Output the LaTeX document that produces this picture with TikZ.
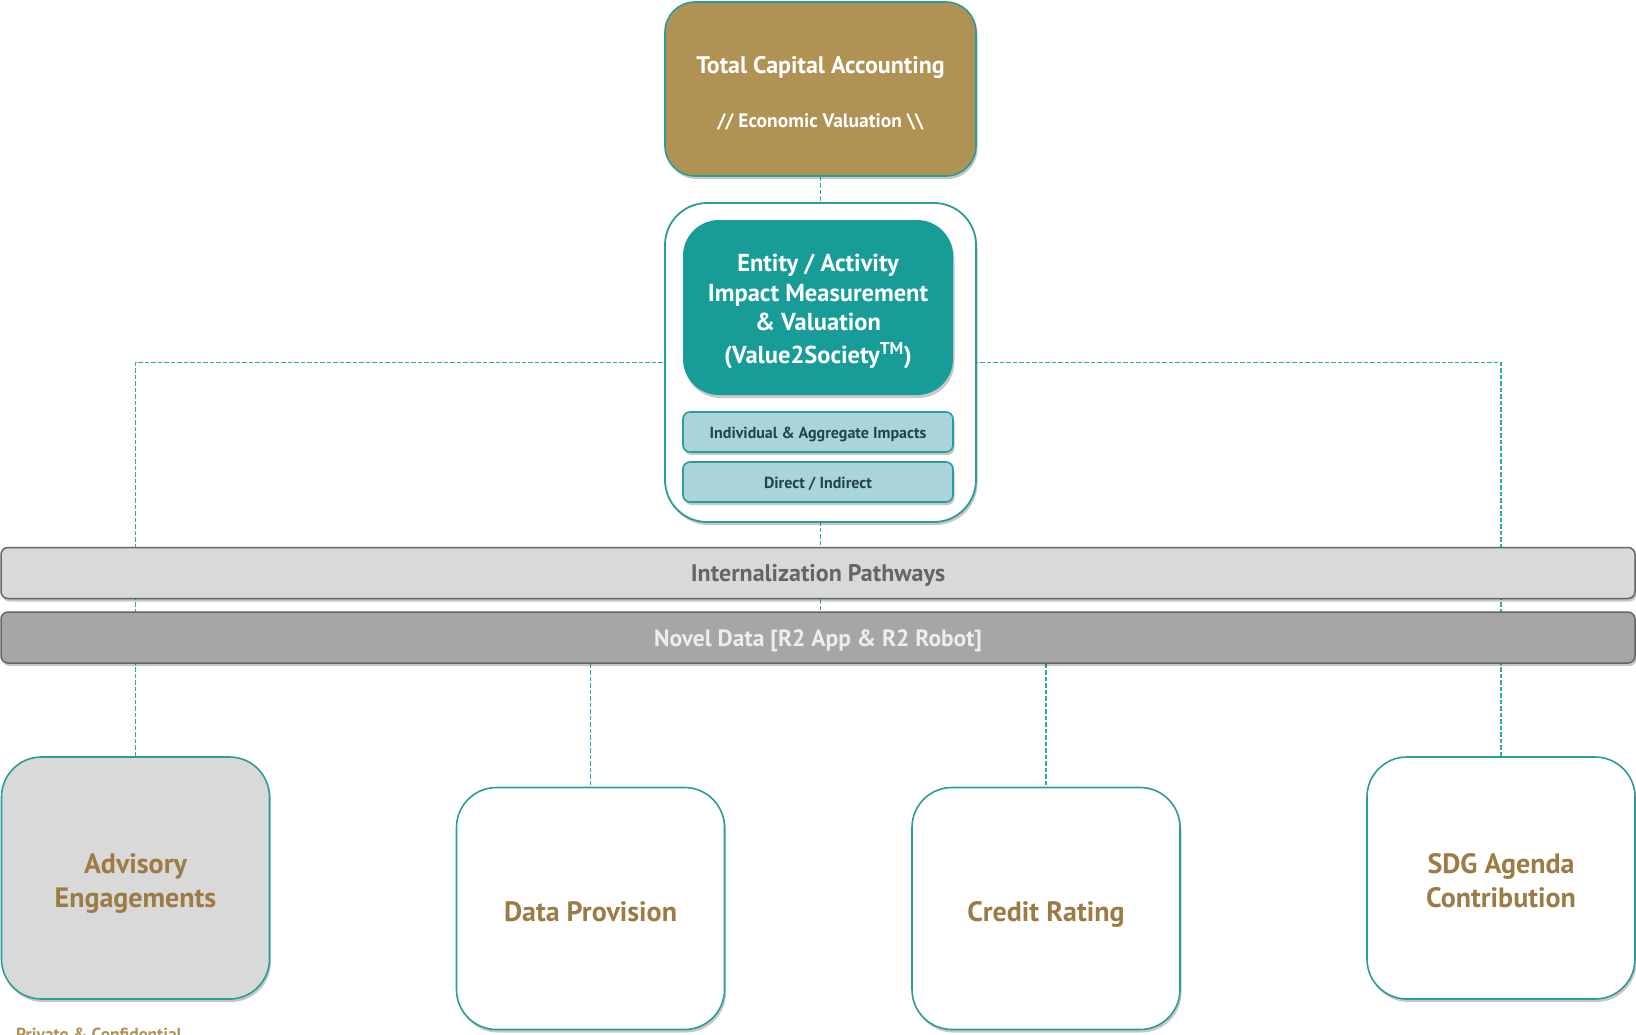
\documentclass[tikz,border=0pt]{standalone}
\usepackage{fontspec}
\setmainfont{PT Sans}
\usetikzlibrary{shadows,backgrounds}
\definecolor{gold}{HTML}{B09354}
\definecolor{goldtxt}{HTML}{9C7C45}
\definecolor{tealfill}{HTML}{189C98}
\definecolor{tealline}{HTML}{2A9D9A}
\definecolor{dashc}{HTML}{2FA8A6}
\definecolor{lblue}{HTML}{A9D4DA}
\definecolor{gbar}{HTML}{D9D9D9}
\definecolor{gdark}{HTML}{A6A6A6}
\definecolor{gline}{HTML}{656565}
\definecolor{smalltxt}{HTML}{22434A}
\begin{document}
\begin{tikzpicture}[x=1pt,y=-1pt,
  shad/.style={drop shadow={shadow xshift=1.5pt, shadow yshift=-3pt, opacity=0.22, fill=black}},
  tealbox/.style={rectangle, draw=tealline, line width=1.6pt, inner sep=0pt},
  barbox/.style={rectangle, rounded corners=7pt, draw=gline, line width=1.5pt, inner sep=0pt,
    minimum width=1634pt, minimum height=51pt, shad},
  subbox/.style={tealbox, rounded corners=7pt, fill=lblue, minimum width=270pt, minimum height=40pt, shad},
  outbox/.style={tealbox, rounded corners=40pt, minimum width=268pt, minimum height=242pt, shad},
  lbl/.style={inner sep=0pt, anchor=base, align=center},
  smalllbl/.style={lbl, text=smalltxt, font=\bfseries\fontsize{16}{19}\selectfont},
  barlbl/.style={lbl, font=\bfseries\fontsize{24}{28}\selectfont},
  boxlbl/.style={lbl, text=goldtxt, font=\bfseries\fontsize{28}{34.5}\selectfont},
  conn/.style={draw=dashc, line width=1.7pt, dash pattern=on 4.5pt off 2pt}
]
\useasboundingbox (0,0) rectangle (1636,1034);

% top box
\node[tealbox, rounded corners=30pt, fill=gold, minimum width=311pt, minimum height=174pt, shad]
  (tca) at (820.5,89) {};
\node[lbl, text=white, font=\bfseries\fontsize{24}{28}\selectfont] (tcat)
  at ([yshift=16pt]tca.center) {Total Capital Accounting};
\node[lbl, text=white, font=\bfseries\fontsize{19.5}{23}\selectfont] (tcas)
  at ([yshift=-38pt]tca.center) {// Economic Valuation \textbackslash\textbackslash};

% container
\node[tealbox, rounded corners=42pt, fill=white, line width=1.8pt, minimum width=311pt,
  minimum height=319pt, shad] (outer) at (820.5,362.5) {};
\node[tealbox, draw=none, rounded corners=36pt, fill=tealfill, minimum width=270pt,
  minimum height=175pt, shad] (ent) at (818,307.5) {};
\node[lbl, text=white, font=\bfseries\fontsize{24.5}{29.3}\selectfont] (entt)
  at ([yshift=-55.8pt]ent.center)
  {Entity / Activity\\Impact Measurement\\\& Valuation\\[3.5pt](Value2Society\textsuperscript{TM})};
\node[subbox] (ind) at (818,432) {};
\node[smalllbl] (indt) at ([yshift=-6.3pt]ind.center) {Individual \& Aggregate Impacts};
\node[subbox] (dir) at (818,482) {};
\node[smalllbl] (dirt) at ([yshift=-6.3pt]dir.center) {Direct / Indirect};

% bars
\node[barbox, fill=gbar] (int) at (818,573) {};
\node[barlbl, text=gline] (intt) at ([yshift=-8.7pt]int.center) {Internalization Pathways};
\node[barbox, fill=gdark] (nov) at (818,637.5) {};
\node[barlbl, text=white!93!black, font=\bfseries\fontsize{23.5}{28}\selectfont] (novt)
  at ([yshift=-9.2pt]nov.center) {Novel Data [R2 App \& R2 Robot]};

% bottom boxes
\node[outbox, fill=gbar] (adv) at (135.5,878) {};
\node[boxlbl] (advt) at ([yshift=-29.7pt]adv.center) {Advisory\\Engagements};
\node[outbox, fill=white] (dat) at (590.5,908.5) {};
\node[boxlbl] (datt) at ([yshift=-12.5pt]dat.center) {Data Provision};
\node[outbox, fill=white] (cre) at (1046,908.5) {};
\node[boxlbl] (cret) at ([yshift=-12.5pt]cre.center) {Credit Rating};
\node[outbox, fill=white] (sdg) at (1501,878) {};
\node[boxlbl] (sdgt) at ([yshift=-29.7pt]sdg.center) {SDG Agenda\\Contribution};

\node[anchor=base west, text=gold, font=\bfseries\fontsize{17.5}{20}\selectfont, inner sep=0pt] (priv)
  at (16,1040) {Private \& Confidential};

% connectors
\begin{scope}[on background layer]
  \fill[white] (0,0) rectangle (1636,1034);
  \draw[conn] (tca.south) -- (tca.south |- nov.north);
  \draw[conn] (adv.north) |- (outer.west);
  \draw[conn] (sdg.north) |- (outer.east);
  \draw[conn] (nov.south -| dat.north) -- (dat.north);
  \draw[conn] (nov.south -| cre.north) -- (cre.north);
\end{scope}
\end{tikzpicture}
\end{document}
